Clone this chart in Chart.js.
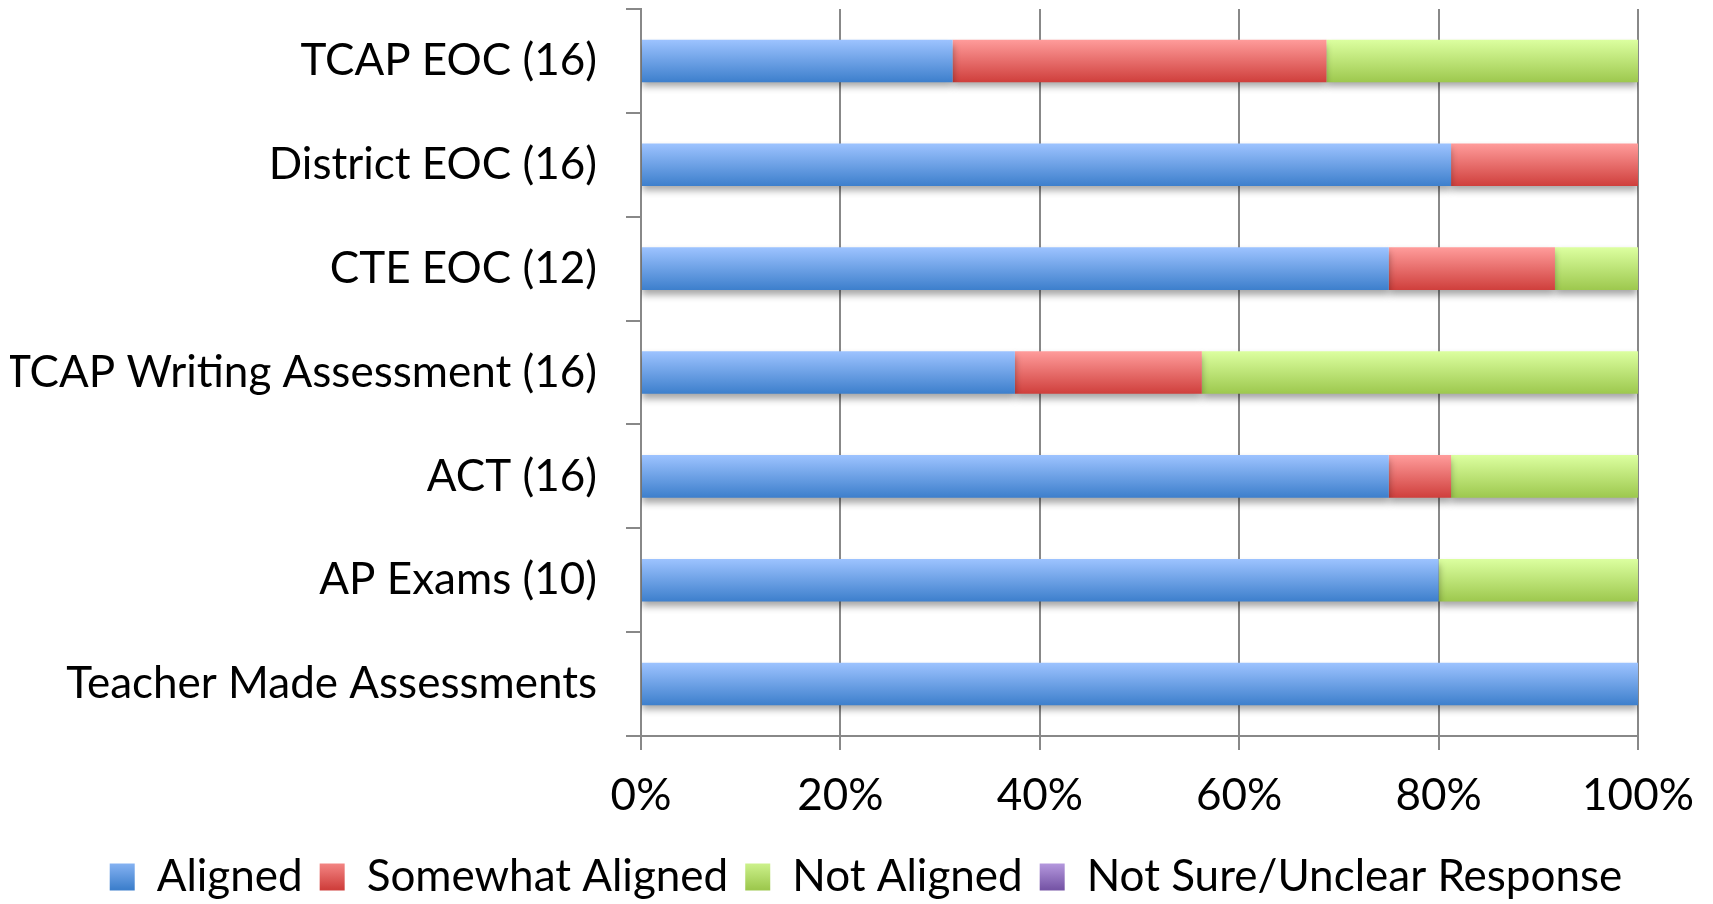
<!DOCTYPE html>
<html>
<head>
<meta charset="utf-8">
<script src="https://cdn.jsdelivr.net/npm/chart.js@4/dist/chart.umd.min.js"></script>
<style>
  html, body { margin: 0; padding: 0; background: #fff; }
  #wrap { width: 1713px; height: 904px; }
</style>
</head>
<body>
<div id="wrap"><canvas id="alignChart"></canvas></div>
<script>
const categories = ['TCAP EOC (16)', 'District EOC (16)', 'CTE EOC (12)', 'TCAP Writing Assessment (16)', 'ACT (16)', 'AP Exams (10)', 'Teacher Made Assessments'];
const aligned = [31.25, 81.25, 75, 37.5, 75, 80, 100];
const somewhatAligned = [37.5, 18.75, 16.67, 18.75, 6.25, 0, 0];
const notAligned = [31.25, 0, 8.33, 43.75, 18.75, 20, 0];
const notSure = [0, 0, 0, 0, 0, 0, 0];
const xTicks = [0, 20, 40, 60, 80, 100];

const BAR_PCT = 0.41;
const FONT = { family: 'Lato', size: 44 };

// vertical light-to-dark gradient per bar
function barGradient(light, dark) {
  return function (c) {
    const chart = c.chart;
    const y = chart.scales.y;
    if (!y || c.dataIndex === undefined) return dark;
    const mid = y.getPixelForValue(c.dataIndex);
    const half = (y.height / categories.length) * BAR_PCT / 2;
    const g = chart.ctx.createLinearGradient(0, mid - half, 0, mid + half);
    g.addColorStop(0, light);
    g.addColorStop(1, dark);
    return g;
  };
}

const palette = [
  ['#9dc3ff', '#3d7fcc'],
  ['#ff9c9b', '#cf3f3c'],
  ['#dcffa0', '#9dc84e'],
  ['#c9aef0', '#7655a6']
];

const barShadow = {
  id: 'barShadow',
  beforeDatasetsDraw(chart) {
    const c = chart.ctx;
    c.save();
    c.shadowColor = 'rgba(0,0,0,0.35)';
    c.shadowBlur = 7;
    c.shadowOffsetY = 5;
  },
  afterDatasetsDraw(chart) {
    chart.ctx.restore();
  }
};

// nudge the legend so it sits centred under the whole picture
const legendShift = {
  id: 'legendShift',
  afterLayout(chart) {
    if (chart.legend) {
      chart.legend.left += 42;
      chart.legend.right += 42;
    }
  }
};

function makeSet(label, data, i) {
  return {
    label: label,
    data: data,
    backgroundColor: barGradient(palette[i][0], palette[i][1]),
    borderWidth: 0,
    barPercentage: BAR_PCT,
    categoryPercentage: 1
  };
}

const ctx = document.getElementById('alignChart').getContext('2d');
const chart = new Chart(ctx, {
  type: 'bar',
  data: {
    labels: categories,
    datasets: [
      makeSet('Aligned', aligned, 0),
      makeSet('Somewhat Aligned', somewhatAligned, 1),
      makeSet('Not Aligned', notAligned, 2),
      makeSet('Not Sure/Unclear Response', notSure, 3)
    ]
  },
  options: {
    indexAxis: 'y',
    responsive: true,
    maintainAspectRatio: false,
    animation: false,
    layout: { padding: { top: 9, right: 75, left: 10, bottom: -5 } },
    scales: {
      x: {
        stacked: true,
        min: 0,
        max: 100,
        afterBuildTicks: s => { s.ticks = xTicks.map(v => ({ value: v })); },
        afterFit: s => { s.height = 102; s.paddingLeft = 0; s.paddingRight = 0; },
        grid: { color: '#888', lineWidth: 2, tickLength: 14 },
        border: { color: '#888', width: 2 },
        ticks: { color: '#000', font: FONT, padding: 19, callback: v => v + '%' }
      },
      y: {
        stacked: true,
        afterFit: s => { s.width = 631; s.paddingTop = 0; s.paddingBottom = 0; },
        grid: { drawOnChartArea: false, color: '#888', lineWidth: 2, tickLength: 15, offset: true },
        border: { color: '#888', width: 2 },
        ticks: { color: '#000', font: FONT, padding: 29 }
      }
    },
    plugins: {
      tooltip: { enabled: false },
      legend: {
        position: 'bottom',
        labels: {
          color: '#000',
          font: FONT,
          boxWidth: 25,
          boxHeight: 27,
          padding: 17,
          generateLabels: function (ch) {
            const lg = ch.legend;
            const top = lg && lg.top ? lg.top + 17 : 860;
            return ch.data.datasets.map((ds, i) => {
              const g = ch.ctx.createLinearGradient(0, top, 0, top + 34);
              g.addColorStop(0, palette[i][0]);
              g.addColorStop(1, palette[i][1]);
              return {
                text: ds.label,
                fillStyle: g,
                strokeStyle: 'rgba(0,0,0,0)',
                lineWidth: 0,
                fontColor: '#000',
                datasetIndex: i,
                hidden: false
              };
            });
          }
        }
      }
    }
  },
  plugins: [barShadow, legendShift]
});
chart.update();
</script>
</body>
</html>
